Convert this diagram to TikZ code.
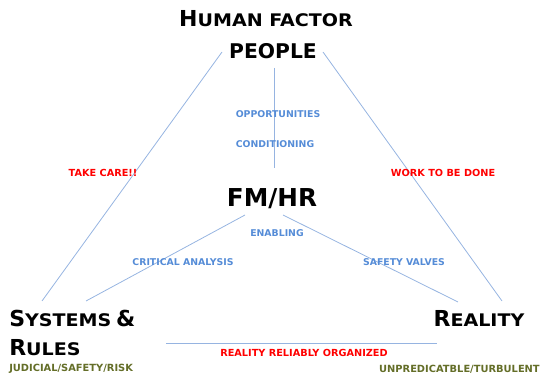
\documentclass[tikz,border=0pt]{standalone}
\usepackage{fontspec}
\setmainfont{DejaVu Sans}
\newfontfamily\widesans[FakeStretch=1.1]{DejaVu Sans}
% faux small caps: full-size initial, smaller widened capitals for the rest
\newcommand\capbig[1]{{\fontsize{16.5}{18}\selectfont #1}}
\newcommand\capsmall[1]{{\widesans\bfseries\fontsize{13}{15}\selectfont #1}}
\definecolor{linkblue}{RGB}{150,180,225}
\definecolor{labelblue}{RGB}{85,140,215}
\definecolor{labelred}{RGB}{255,0,0}
\definecolor{labelolive}{RGB}{100,110,40}
\begin{document}
\begin{tikzpicture}[x=0.75pt,y=-0.75pt,
  title/.style={font=\bfseries, inner sep=0pt, text=black},
  bluetag/.style={font=\bfseries\fontsize{7}{8}\selectfont, inner sep=0pt, text=labelblue},
  redtag/.style={font=\bfseries\fontsize{7.3}{8}\selectfont, inner sep=0pt, text=labelred},
  olivetag/.style={font=\bfseries\fontsize{7.4}{8}\selectfont, inner sep=0pt, text=labelolive},
  link/.style={draw=linkblue, line width=0.6pt}
]
\useasboundingbox (0,0) rectangle (543,374);

% headings
\node[title] (hf) at (266,19) {\capbig{H}\capsmall{UMAN FACTOR}};
\node[title] (people) at (273,51) {\fontsize{15.2}{17}\selectfont PEOPLE};
\node[title] (fmhr) at (272,199) {\fontsize{18.5}{20}\selectfont FM/HR};
\node[title, anchor=west] (sys) at (9,318.5) {\capbig{S}\capsmall{YSTEMS} \capbig{\&}};
\node[title, anchor=west] (rules) at (9,348) {\capbig{R}\capsmall{ULES}};
\node[title] (reality) at (479,318) {\capbig{R}\capsmall{EALITY}};

% connector end points
\coordinate (pl) at (222,52);
\coordinate (pr) at (323,52);
\coordinate (sl) at (42,301);
\coordinate (rr) at (502,301);
\coordinate (vt) at (274,68);
\coordinate (vb) at (274,168);
\coordinate (fl) at (245,215);
\coordinate (fr) at (283,215);
\coordinate (sb) at (86,301);
\coordinate (rl) at (458,302);
\coordinate (hl) at (166,343);
\coordinate (hr) at (437,343);

% connectors
\draw[link] (pl) -- (sl);
\draw[link] (pr) -- (rr);
\draw[link] (vt) -- (vb);
\draw[link] (fl) -- (sb);
\draw[link] (fr) -- (rl);
\draw[link] (hl) -- (hr);

% labels
\node[bluetag] (opp) at (278,114) {OPPORTUNITIES};
\node[bluetag] (cond) at (275,144) {CONDITIONING};
\node[bluetag] (enab) at (277,233) {ENABLING};
\node[bluetag] (crit) at (183,262) {CRITICAL ANALYSIS};
\node[bluetag] (valv) at (404,262) {SAFETY VALVES};
\node[redtag] (care) at (103,173) {TAKE CARE!!};
\node[redtag] (work) at (443,173) {WORK TO BE DONE};
\node[redtag] (org) at (304,353) {REALITY RELIABLY ORGANIZED};
\node[olivetag, anchor=west] (jud) at (9,369) {JUDICIAL/SAFETY/RISK};
\node[olivetag, anchor=east] (unp) at (540,369) {UNPREDICATBLE/TURBULENT};
\end{tikzpicture}
\end{document}
